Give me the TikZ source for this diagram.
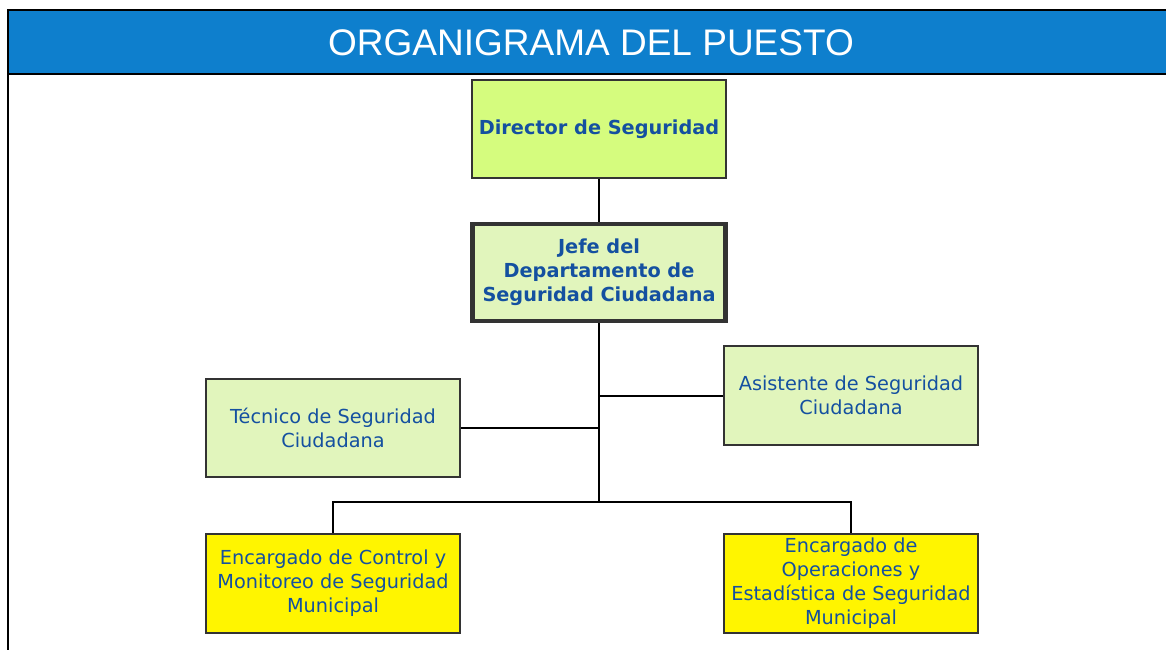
\documentclass[tikz,border=0pt]{standalone}
\usepackage{fontspec}
\newfontfamily\vfont{DejaVu Sans}
\newfontfamily\hfont{Liberation Sans}
\definecolor{hdrblue}{HTML}{0E7FCD}
\definecolor{txtblue}{HTML}{1450A0}
\definecolor{lime}{HTML}{D5FC7E}
\definecolor{pale}{HTML}{E1F5BC}
\definecolor{yel}{HTML}{FFF500}
\definecolor{bord}{HTML}{333333}
\tikzset{
  box/.style={draw=bord, line width=2pt, rectangle, minimum width=254pt, minimum height=99pt,
    align=center, text=txtblue, font=\vfont\fontsize{19.3}{24}\selectfont, inner sep=0pt},
  boldbox/.style={box, font=\vfont\bfseries\fontsize{19.3}{24}\selectfont},
  conn/.style={line width=2pt, black},
}
\begin{document}
\begin{tikzpicture}[x=1pt,y=-1pt]
\useasboundingbox (0,0) rectangle (1166,649);
\begin{scope}
\clip (0,0) rectangle (1166,649);
\fill[hdrblue] (8,10) rectangle (1180,74);
\draw[line width=2pt] (8,10) -- (1180,10);
\draw[line width=2pt] (8,74) -- (1180,74);
\draw[line width=2pt] (8,9) -- (8,660);
\end{scope}
\node[text=white, font=\hfont\fontsize{37}{44}\selectfont] (title) at (591,43) {ORGANIGRAMA DEL PUESTO};

\node[boldbox, fill=lime, minimum height=98pt] (dir) at (599,129) {Director de Seguridad};
\node[boldbox, fill=pale, line width=4.5pt, minimum width=253pt, minimum height=97pt] (jefe) at (599,272.5) {Jefe del\\Departamento de\\Seguridad Ciudadana};
\node[box, fill=pale, minimum height=98pt] (tec) at (333,428) {Técnico de Seguridad\\Ciudadana};
\node[box, fill=pale] (asis) at (851,395.5) {Asistente de Seguridad\\Ciudadana};
\node[box, fill=yel] (ctrl) at (333,583.5) {Encargado de Control y\\Monitoreo de Seguridad\\Municipal};
\node[box, fill=yel] (oper) at (851,583.5) {Encargado de\\Operaciones y\\Estadística de Seguridad\\Municipal};

\coordinate (bus) at (599,502);
\draw[conn] (dir) -- (jefe);
\draw[conn] (jefe) -- (bus);
\draw[conn] (tec.east) -- (tec.east -| bus);
\draw[conn] (asis.west) -- (asis.west -| bus);
\draw[conn] (ctrl.north) |- (bus) -| (oper.north);
\end{tikzpicture}
\end{document}
